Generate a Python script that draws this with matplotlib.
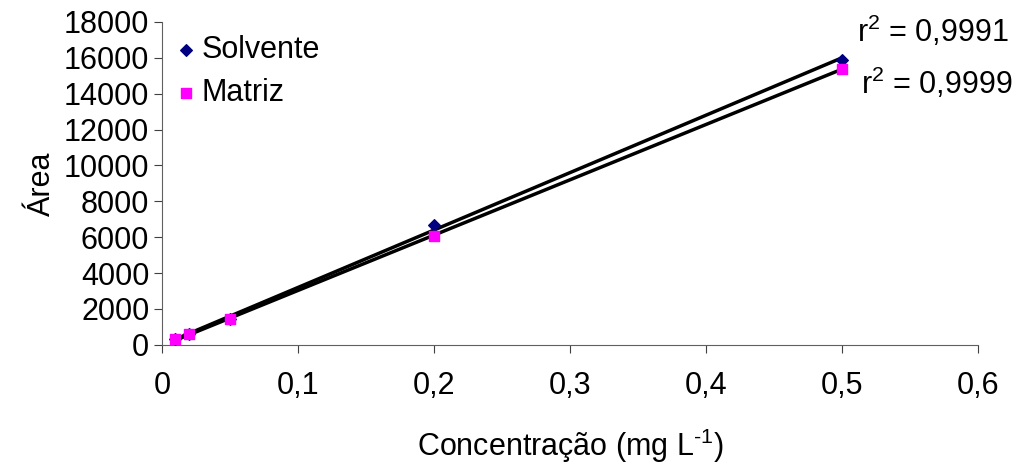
import numpy as np
import matplotlib
matplotlib.use("Agg")
import matplotlib.pyplot as plt

plt.rcParams["font.family"] = ["Liberation Sans", "DejaVu Sans"]
plt.rcParams["mathtext.fontset"] = "custom"
plt.rcParams["mathtext.rm"] = "Liberation Sans"
plt.rcParams["mathtext.default"] = "regular"

conc = [0.01, 0.02, 0.05, 0.2, 0.5]
area_solvente = [300, 600, 1450, 6700, 15900]
area_matriz = [300, 620, 1420, 6050, 15400]
x_ticks = [0, 0.1, 0.2, 0.3, 0.4, 0.5, 0.6]
x_labels = ["0", "0,1", "0,2", "0,3", "0,4", "0,5", "0,6"]
y_ticks = list(range(0, 18001, 2000))

fig = plt.figure(figsize=(10.18, 4.66), dpi=100)
ax = fig.add_axes([0.159, 0.26, 0.802, 0.693])

# linear trendlines for each series
x = np.array(conc)
for y in (area_solvente, area_matriz):
    a, b = np.polyfit(x, y, 1)
    ax.plot(x, a * x + b, color="black", lw=2.5, zorder=2)

ax.scatter(conc, area_solvente, marker="D", s=35, color="#000080", zorder=3, label="Solvente")
ax.scatter(conc, area_matriz, marker="s", s=45, color="#ff00ff", zorder=3, label="Matriz")

ax.text(0.5105, 17450, "r$^2$ = 0,9991", fontsize=22, ha="left", va="center")
ax.text(0.514, 14600, "r$^2$ = 0,9999", fontsize=22, ha="left", va="center")

ax.set_xlim(0, 0.6)
ax.set_ylim(0, 18000)
ax.set_xticks(x_ticks)
ax.set_xticklabels(x_labels)
ax.set_yticks(y_ticks)
ax.tick_params(labelsize=22, length=6, color="#404040")
ax.tick_params(axis="x", pad=13)
ax.tick_params(axis="y", pad=3)
for side in ("top", "right"):
    ax.spines[side].set_visible(False)
for side in ("left", "bottom"):
    ax.spines[side].set_color("#606060")

ax.set_xlabel("Concentração (mg L$^{\\text{-}1}$)", fontsize=22, labelpad=18)
ax.set_ylabel("Área", fontsize=22, labelpad=5)

ax.legend(loc="upper left", bbox_to_anchor=(0.0147, 0.96), frameon=False, fontsize=22,
          handlelength=0.8, handletextpad=0.12, borderaxespad=0, borderpad=0,
          labelspacing=0.42)

fig.savefig("out.png", dpi=100)
